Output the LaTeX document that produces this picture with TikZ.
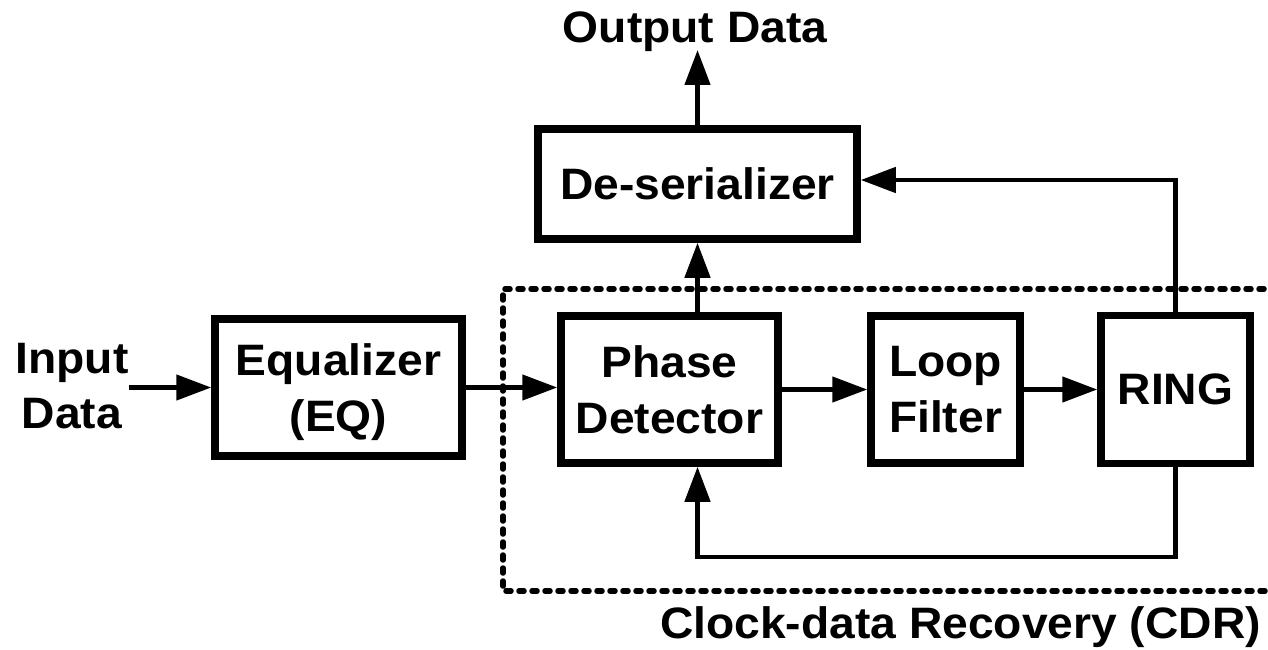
\documentclass[tikz,border=0pt]{standalone}
\usepackage{fontspec}
\setmainfont{Liberation Sans}[FakeStretch=1.05]
\usetikzlibrary{arrows.meta}
\begin{document}
\begin{tikzpicture}[x=1pt,y=-1pt,
  txt/.style={font=\fontsize{44}{55.5}\selectfont\bfseries, inner sep=0pt, align=center},
  blk/.style={txt, draw, line width=7.5pt, text depth=0pt},
  arr/.style={line width=4.6pt, -{Triangle[length=35pt,width=25pt]}},
  cdrbox/.style={line width=5.5pt, line cap=round, dash pattern=on 5pt off 8pt}]
\useasboundingbox (0,0) rectangle (1268,650);
\clip (0,0) rectangle (1268,650);

% clock-data recovery boundary (open to the right)
\draw[cdrbox] (1290,289) -- (503,289) -- (503,591) -- (1290,591);

% blocks
\node[blk, minimum width=247pt, minimum height=137pt] (eq)   at (338.5,387.5) {Equalizer\\(EQ)};
\node[blk, minimum width=217pt, minimum height=147pt] (pd)   at (669.5,389.5) {Phase\\Detector};
\node[blk, minimum width=149pt, minimum height=147pt] (lf)   at (945.5,389.5) {Loop\\Filter};
\node[blk, minimum width=149pt, minimum height=148pt] (ring) at (1175.5,389.5) {RING};
\node[blk, minimum width=319pt, minimum height=110pt] (des)  at (697.5,184) {De-serializer};

% labels
\node[txt, text depth=0pt, anchor=south] (in) at (72,429) {Input\\Data};
\node[txt, anchor=base] (out) at (695,43) {Output Data};
\node[txt, anchor=base] (cdr) at (960.5,638) {Clock-data Recovery (CDR)};

% helper points
\coordinate (outtip) at (697.5,50);
\coordinate (tap) at (1175.5,180);
\coordinate (fb) at (697.5,557);

% connectors
\draw[arr] (in.east |- eq.west) -- (eq.west);
\draw[arr] (eq.east) -- (eq.east -| pd.west);
\draw[arr] (pd.east) -- (lf.west);
\draw[arr] (lf.east) -- (ring.west);
\draw[arr] (des.south |- pd.north) -- (des.south);
\draw[arr] (des.north) -- (outtip);
\draw[arr] (ring.north) -- (tap) -- (tap -| des.east);
\draw[arr] (ring.south) |- (fb) -- (fb |- pd.south);
\end{tikzpicture}
\end{document}
